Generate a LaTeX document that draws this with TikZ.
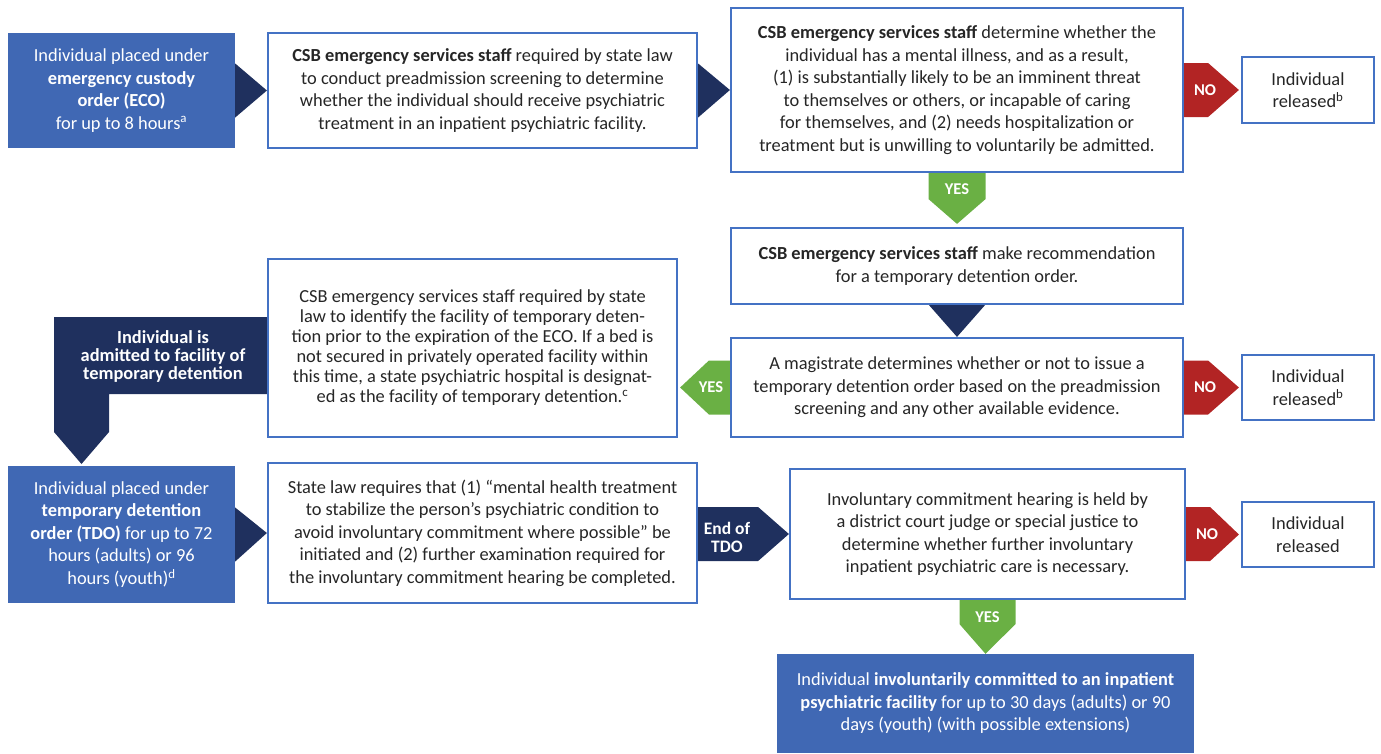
\documentclass[tikz,border=0pt]{standalone}
\usepackage{fontspec}
\setmainfont{Carlito}
\usetikzlibrary{calc,backgrounds}

\definecolor{edgeblue}{RGB}{68,114,196}
\definecolor{fillblue}{RGB}{64,104,180}
\definecolor{navyblue}{RGB}{31,48,94}
\definecolor{nored}{RGB}{178,36,36}
\definecolor{yesgreen}{RGB}{106,176,68}
\definecolor{inkgray}{RGB}{38,38,38}

\tikzset{
  outbox/.style={draw=edgeblue, line width=2.2pt, fill=white, text=inkgray,
    align=center, inner sep=0pt, font=\fontsize{18.4}{22.5}\selectfont},
  solidbox/.style={fill=fillblue, text=white, align=center, inner sep=0pt,
    font=\fontsize{18.4}{22.5}\selectfont},
  flaglabel/.style={text=white, align=center, inner sep=0pt,
    font=\bfseries\fontsize{16.5}{18}\selectfont},
}

\begin{document}
\begin{tikzpicture}[x=1pt,y=-1pt]
  \useasboundingbox (0,0) rectangle (1381,753);

  % first row
  \node[solidbox, minimum width=227, minimum height=115] (eco) at (121.5,90.5)
    {Individual placed under\\ \textbf{emergency custody}\\ \textbf{order (ECO)}\\ for up to 8 hours\textsuperscript{a}};
  \node[outbox, minimum width=429, minimum height=115] (screen) at (482.5,90.5)
    {\textbf{CSB emergency services staff} required by state law\\ to conduct preadmission screening to determine\\ whether the individual should receive psychiatric\\ treatment in an inpatient psychiatric facility.};
  \node[outbox, minimum width=452, minimum height=164] (assess) at (957,90)
    {\textbf{CSB emergency services staff} determine whether the\\ individual has a mental illness, and as a result,\\ (1) is substantially likely to be an imminent threat\\ to themselves or others, or incapable of caring\\ for themselves, and (2) needs hospitalization or\\ treatment but is unwilling to voluntarily be admitted.};
  \node[outbox, minimum width=132, minimum height=66] (rel1) at (1308,90)
    {Individual\\ released\textsuperscript{b}};

  % middle rows
  \node[outbox, minimum width=452, minimum height=76] (recom) at (957,266)
    {\textbf{CSB emergency services staff} make recommendation\\ for a temporary detention order.};
  \node[outbox, minimum width=452, minimum height=99] (magis) at (957,387.5)
    {A magistrate determines whether or not to issue a\\ temporary detention order based on the preadmission\\ screening and any other available evidence.};
  \node[outbox, minimum width=132, minimum height=65] (rel2) at (1308,387.5)
    {Individual\\ released\textsuperscript{b}};
  \node[outbox, minimum width=409, minimum height=178, font=\fontsize{18.4}{20}\selectfont] (ident) at (472.5,348)
    {CSB emergency services staff required by state\\ law to identify the facility of temporary deten-\\ tion prior to the expiration of the ECO. If a bed is\\ not secured in privately operated facility within\\ this time, a state psychiatric hospital is designat-\\ ed as the facility of temporary detention.\textsuperscript{c}};
  \node[flaglabel, font=\bfseries\fontsize{18.4}{18}\selectfont] (admit) at (163,356)
    {Individual is\\ admitted to facility of\\ temporary detention};

  % bottom rows
  \node[solidbox, minimum width=227, minimum height=137] (tdo) at (121.5,534.5)
    {Individual placed under\\ \textbf{temporary detention}\\ \textbf{order (TDO)} for up to 72\\ hours (adults) or 96\\ hours (youth)\textsuperscript{d}};
  \node[outbox, minimum width=429, minimum height=140] (treat) at (482.5,533)
    {State law requires that (1) “mental health treatment\\ to stabilize the person’s psychiatric condition to\\ avoid involuntary commitment where possible” be\\ initiated and (2) further examination required for\\ the involuntary commitment hearing be completed.};
  \node[outbox, minimum width=395, minimum height=130] (hear) at (987.5,534)
    {Involuntary commitment hearing is held by\\ a district court judge or special justice to\\ determine whether further involuntary\\ inpatient psychiatric care is necessary.};
  \node[outbox, minimum width=132, minimum height=65] (rel3) at (1308,534.5)
    {Individual\\ released};
  \node[solidbox, minimum width=417, minimum height=99] (commit) at (985.5,703.5)
    {Individual \textbf{involuntarily committed to an inpatient}\\ \textbf{psychiatric facility} for up to 30 days (adults) or 90\\ days (youth) (with possible extensions)};

  % connectors
  \begin{scope}[on background layer]
    \fill[navyblue] ($(eco.east)+(0,-27)$) -- (screen.west) -- ($(eco.east)+(0,27)$) -- cycle;
    \fill[navyblue] ($(screen.east)+(0,-27)$) -- (assess.west) -- ($(screen.east)+(0,27)$) -- cycle;
    \fill[navyblue] ($(tdo.east)+(0,-27)$) -- (treat.west) -- ($(tdo.east)+(0,27)$) -- cycle;
    \fill[navyblue] ($(recom.south)+(-28,0)$) -- (magis.north) -- ($(recom.south)+(28,0)$) -- cycle;
    \fill[navyblue] (54,317) -- (268,317) -- (268,394) -- (109,394) -- (109,432)
      -- (81.5,464) -- (54,432) -- cycle;
    \fill[navyblue] ($(treat.east |- hear.west)+(0,-27)$) -- ++(60,0) -- (hear.west)
      -- ($(treat.east |- hear.west)+(60,27)$) -- ++(-60,0) -- cycle;
    \foreach \from/\to in {assess/rel1, magis/rel2, hear/rel3}
      \fill[nored] ($(\from.east)+(0,-27)$) -- ++(24,0) -- ($(\to.west)+(-2,0)$)
        -- ($(\from.east)+(24,27)$) -- ++(-24,0) -- cycle;
    \fill[yesgreen] ($(assess.south)+(-28.5,0)$) -- ++(0,26) -- ($(recom.north)+(0,-3)$)
      -- ($(assess.south)+(28.5,26)$) -- ++(0,-26) -- cycle;
    \fill[yesgreen] ($(hear.south)+(-28,0)$) -- ++(0,24) -- (commit.north)
      -- ($(hear.south)+(28,24)$) -- ++(0,-24) -- cycle;
    \fill[yesgreen] ($(magis.west)+(0,-27)$) -- ++(-21,0) -- ($(ident.east |- magis.west)+(2,0)$)
      -- ($(magis.west)+(-21,27)$) -- ++(21,0) -- cycle;
  \end{scope}

  % flag labels
  \node[flaglabel] (no1) at ($(assess.east)+(21,0)$) {NO};
  \node[flaglabel] (no2) at ($(magis.east)+(21,0)$) {NO};
  \node[flaglabel] (no3) at ($(hear.east)+(21,0)$) {NO};
  \node[flaglabel] (yes1) at ($(assess.south)+(0,16)$) {YES};
  \node[flaglabel] (yes2) at ($(magis.west)+(-19,0)$) {YES};
  \node[flaglabel] (yes3) at ($(hear.south)+(0,17)$) {YES};
  \node[flaglabel, font=\bfseries\fontsize{17.5}{18}\selectfont] (endtdo) at (727,537) {End of\\ TDO};
\end{tikzpicture}
\end{document}
